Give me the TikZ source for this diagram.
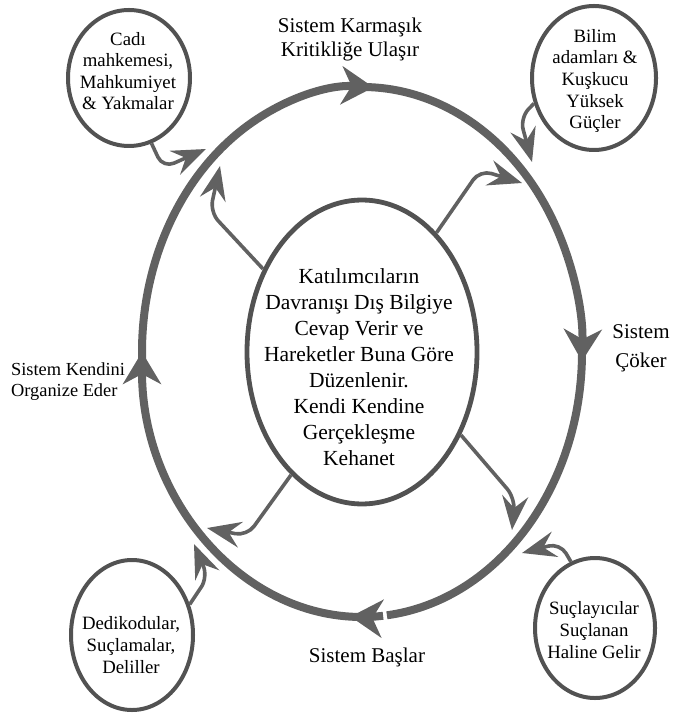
\documentclass[tikz,border=0pt]{standalone}
\usepackage{fontspec}
\setmainfont{Liberation Serif}
\usetikzlibrary{shapes.geometric,arrows.meta}
\tikzset{
  ring/.style={draw=black!62,line width=4pt},
  ringarrow/.style={-{Stealth[length=16pt,width=19pt,inset=5pt]}},
  oval/.style={ellipse,draw=black!68,line width=2pt,inner sep=0pt},
  link/.style={draw=black!62,line width=1.8pt,rounded corners=6pt,-{Stealth[length=17pt,width=13pt,inset=6pt]}},
  smalltxt/.style={align=center,font=\rmfamily\fontsize{9.4}{10.8}\selectfont},
  labeltxt/.style={align=center,font=\rmfamily\fontsize{10.5}{12}\selectfont}
}
\begin{document}
\begin{tikzpicture}[x=0.5pt,y=0.5pt]
\useasboundingbox (0,0) rectangle (675,-715);
\coordinate (c) at (362,-352);
\foreach \a/\b in {183/87,90/-2,-84.5/-93,-90/-180} {
  \draw[ring,ringarrow] (c) ++(\a:110pt and 132.5pt) arc[start angle=\a,end angle=\b,x radius=110pt,y radius=132.5pt];
}
\draw[ring] (c) ++(1:110pt and 132.5pt) arc[start angle=1,end angle=-83.5,x radius=110pt,y radius=132.5pt];
\node[oval,line width=2.4pt,minimum width=115pt,minimum height=152pt] (mid) at (c) {};
\node[oval,minimum width=61pt,minimum height=68pt] (cadi) at (129,-78) {};
\node[oval,minimum width=62pt,minimum height=72pt] (bilim) at (594,-78) {};
\node[oval,minimum width=61pt,minimum height=75pt] (dedi) at (132,-635) {};
\node[oval,minimum width=60pt,minimum height=70pt] (sucl) at (595,-628) {};
\node[align=center,font=\rmfamily\fontsize{10.75}{13}\selectfont] (midT) at (359,-367)
  {Katılımcıların\\Davranışı Dış Bilgiye\\Cevap Verir ve\\Hareketler Buna Göre\\Düzenlenir.\\Kendi Kendine\\Gerçekleşme\\Kehanet};
\node[smalltxt] (cadiT) at (128,-71) {Cadı\\mahkemesi,\\Mahkumiyet\\\& Yakmalar};
\node[smalltxt] (bilimT) at (595,-81) {Bilim\\adamları \&\\Kuşkucu\\Yüksek\\Güçler};
\node[smalltxt] (dediT) at (131,-645) {Dedikodular,\\Suçlamalar,\\Deliller};
\node[smalltxt] (suclT) at (594,-630) {Suçlayıcılar\\Suçlanan\\Haline Gelir};
\node[labeltxt] (kritik) at (350,-39) {Sistem Karmaşık\\Kritikliğe Ulaşır};
\node[labeltxt,font=\rmfamily\fontsize{10.5}{14.5}\selectfont] (coker) at (641,-348) {Sistem\\Çöker};
\node[labeltxt] (baslar) at (367,-657) {Sistem Başlar};
\node[align=left,anchor=west,font=\rmfamily\fontsize{9.2}{10.5}\selectfont] (organize) at (4,-382) {Sistem Kendini\\Organize Eder};
\foreach \s/\i/\kx/\ky/\tx/\ty in {cadi.-71/1/163/-168/206/-149, mid.140/2/210/-212/220/-166,
    mid.58/3/480/-170/522/-183, bilim.203/4/520/-118/532/-162, mid.-40/5/515/-498/512/-530,
    sucl.110/6/560/-543/522/-553, mid.-120/7/247/-536/207/-528, dedi.28/8/208/-577/194/-544} {
  \coordinate (k\i) at (\kx,\ky);
  \coordinate (t\i) at (\tx,\ty);
  \draw[link] (\s) -- (k\i) -- (t\i);
}
\end{tikzpicture}
\end{document}
